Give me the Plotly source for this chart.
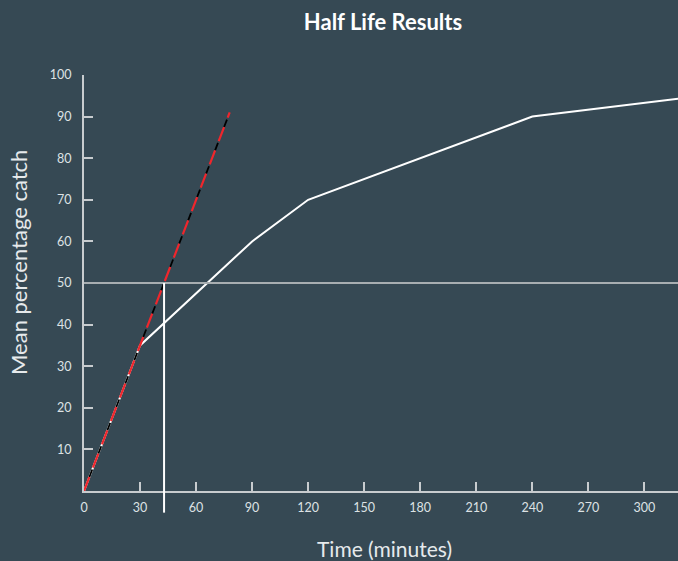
import plotly.graph_objects as go

# Data
time_min = [0, 30, 90, 120, 240, 320]
mean_catch = [0, 35, 60, 70, 90, 94.4]
ext_time = [0, 78]
ext_catch = [0, 91]
half_value = 50
half_life_time = 42.86
x_ticks = [0, 30, 60, 90, 120, 150, 180, 210, 240, 270, 300]
y_ticks = [10, 20, 30, 40, 50, 60, 70, 80, 90, 100]

BG = "#364954"
FONT = "Lato, 'Open Sans', sans-serif"

fig = go.Figure()
fig.add_trace(go.Scatter(x=time_min, y=mean_catch, mode="lines",
                         line=dict(color="white", width=2), hoverinfo="skip"))
fig.add_trace(go.Scatter(x=ext_time, y=ext_catch, mode="lines",
                         line=dict(color="black", width=1.8, dash="0px,15px,8px,2px"), hoverinfo="skip"))
fig.add_trace(go.Scatter(x=ext_time, y=ext_catch, mode="lines",
                         line=dict(color="#f0262c", width=2.2, dash="15px,10px"), hoverinfo="skip"))

# Half-value horizontal line
fig.add_shape(type="line", xref="paper", yref="y", x0=0, x1=1, y0=half_value, y1=half_value,
              line=dict(color="#a8aeb1", width=2), layer="above")
# Half-life vertical line
fig.add_shape(type="line", xref="x", yref="paper", x0=half_life_time, x1=half_life_time,
              y0=-0.052, y1=half_value / 100, line=dict(color="white", width=2), layer="above")

fig.update_layout(
    width=678, height=561,
    paper_bgcolor=BG, plot_bgcolor=BG,
    margin=dict(l=84, r=0, t=75, b=70),
    showlegend=False,
    font=dict(family=FONT, color="#dde2e4"),
    title=dict(text="<b>Half Life Results</b>", x=(383 - 84) / 594, xref="paper", xanchor="center",
               y=1 - 22 / 561, yanchor="middle", font=dict(size=22, color="white", family=FONT)),
    xaxis=dict(range=[0, 318], tickvals=x_ticks, ticks="inside", ticklen=9, tickwidth=1.5,
               tickcolor="#c8cccf", showline=True, linecolor="#c8cccf", linewidth=2,
               showgrid=False, zeroline=False, tickfont=dict(size=12.5, color="#dde2e4"),
               ticklabelstandoff=4),
    yaxis=dict(range=[0, 100], tickvals=y_ticks, ticks="inside", ticklen=9, tickwidth=1.5,
               tickcolor="#c8cccf", showline=True, linecolor="#c8cccf", linewidth=2,
               showgrid=False, zeroline=False, tickfont=dict(size=12.5, color="#dde2e4"),
               ticklabelstandoff=8),
    annotations=[
        dict(text="Time (minutes)", xref="paper", yref="paper", x=(384 - 84) / 594,
             y=-(548 - 491) / 416, xanchor="center", yanchor="middle", showarrow=False,
             font=dict(size=21, color="#e6eaec", family=FONT)),
        dict(text="Mean percentage catch", xref="paper", yref="paper", x=-(84 - 18) / 594,
             y=(491 - 263) / 416, xanchor="center", yanchor="middle", textangle=-90,
             showarrow=False, font=dict(size=22, color="#e6eaec", family=FONT)),
    ],
)

fig.write_html("out.html", config={"displayModeBar": False},
               post_script="document.body.style.margin='0';")
